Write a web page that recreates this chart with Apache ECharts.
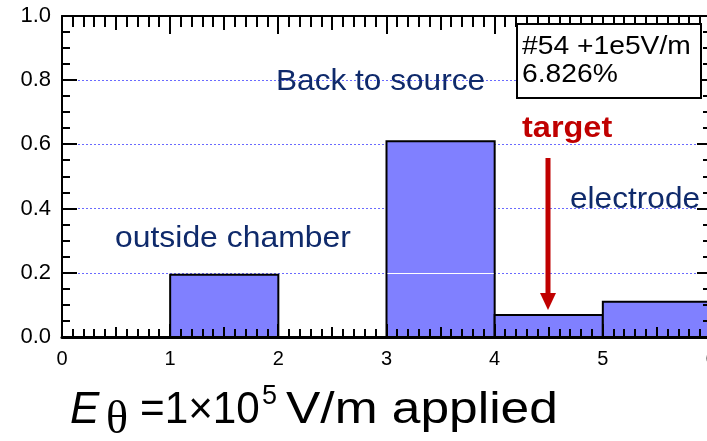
<!DOCTYPE html>
<html>
<head>
<meta charset="utf-8">
<script src="https://cdn.jsdelivr.net/npm/echarts@6/dist/echarts.min.js"></script>
<style>
  html, body { margin: 0; padding: 0; background: #fff; }
  #chart { width: 707px; height: 441px; }
</style>
</head>
<body>
<div id="chart"></div>
<script>
// Histogram of where particles end up (fraction per destination bin)
const binStart = [0, 1, 2, 3, 4, 5];
const binEnd = [1, 2, 3, 4, 5, 6];
const fractions = [0, 0.194, 0, 0.610, 0.06826, 0.110];
const yTickValues = [0, 0.2, 0.4, 0.6, 0.8, 1.0];
const xTickValues = [0, 1, 2, 3, 4, 5, 6];

const navy = '#0f2a6b';
const red = '#c00000';

const chart = echarts.init(document.getElementById('chart'), null, { renderer: 'canvas' });

const histData = binStart.map((s, i) => [s, binEnd[i], fractions[i]]);

// frame ticks: [kind, x, y]; kind 0 = x tick (every 0.1), kind 1 = y tick (every 0.05)
const frameTicks = [];
for (let i = 0; i <= 60; i++) frameTicks.push([0, i / 10, 0]);
for (let j = 0; j <= 20; j++) frameTicks.push([1, 0, j / 20]);

const fontFam = '"Liberation Sans", Arial, sans-serif';

function stretchedText(id, text, x, y, font, color, scaleX) {
  return {
    type: 'text', id: id, x: x, y: y, scaleX: scaleX || 1.1, z: 20,
    style: { text: text, fill: color, font: font, verticalAlign: 'top', align: 'left' }
  };
}

// frame axis: line (and labels) only; ticks come from the frame-tick series
function frameAxis(dim, position, opts) {
  const isX = dim === 'x';
  return {
    type: 'value',
    min: 0,
    max: isX ? 6 : 1,
    interval: isX ? 1 : 0.2,
    position: position,
    axisLine: { show: true, onZero: false, lineStyle: { color: '#000', width: opts.lineWidth || 2 } },
    axisTick: { show: false },
    minorTick: { show: false },
    axisLabel: opts.label || { show: false },
    splitLine: opts.split || { show: false }
  };
}

// a tick as a small filled bar (x, y = top-left corner)
function tickRect(x, y, w, h) {
  return { type: 'rect', shape: { x: x, y: y, width: w, height: h }, style: { fill: '#000' } };
}

chart.setOption({
  animation: false,
  backgroundColor: '#fff',
  grid: { left: 62, top: 16, width: 649, height: 321, containLabel: false, outerBoundsMode: 'none' },
  xAxis: [
    frameAxis('x', 'bottom', {
      lineWidth: 3,
      label: {
        show: true, color: '#000', fontSize: 20, fontFamily: fontFam, margin: 12,
        formatter: v => (xTickValues.indexOf(v) >= 0 ? String(v) : '')
      }
    }),
    frameAxis('x', 'top', {})
  ],
  yAxis: [
    frameAxis('y', 'left', {
      label: {
        show: true, color: '#000', fontSize: 22, fontFamily: fontFam, margin: 11,
        formatter: v => (yTickValues.some(t => Math.abs(t - v) < 1e-9) ? v.toFixed(1) : '')
      },
      split: { show: true, lineStyle: { color: '#6a6aff', width: 1, type: [2, 2] } }
    }),
    frameAxis('y', 'right', {})
  ],
  series: [
    {
      type: 'custom',
      name: 'fraction',
      xAxisIndex: 0,
      yAxisIndex: 0,
      data: histData,
      encode: { x: [0, 1], y: 2 },
      renderItem: function (params, api) {
        const x0 = api.value(0), x1 = api.value(1), v = api.value(2);
        if (!(v > 0)) return null;
        const pTop = api.coord([x0, v]);
        const pBot = api.coord([x1, 0]);
        const bar = {
          type: 'rect',
          shape: { x: pTop[0], y: pTop[1], width: pBot[0] - pTop[0], height: pBot[1] - pTop[1] },
          style: { fill: '#8080ff', stroke: '#000', lineWidth: 2 }
        };
        if (v <= 0.2) return bar;
        // the 0.2 grid line shows through the tall bar as a thin white rule
        const g0 = api.coord([x0, 0.2]);
        const gy = Math.round(g0[1]) + 0.5;
        return { type: 'group', children: [
          bar,
          { type: 'line', shape: { x1: pTop[0] + 1, y1: gy, x2: pBot[0] - 1, y2: gy },
            style: { stroke: '#ffffff', lineWidth: 1 } }
        ] };
      }
    },
    {
      // inward ticks on all four sides of the frame
      type: 'custom',
      name: 'frameTicks',
      xAxisIndex: 0,
      yAxisIndex: 0,
      silent: true,
      clip: false,
      z: 10,
      data: frameTicks,
      encode: { x: 1, y: 2 },
      renderItem: function (params, api) {
        const kind = api.value(0);
        if (kind === 0) {
          const v = api.value(1);
          const b = api.coord([v, 0]);
          const t = api.coord([v, 1]);
          const k = Math.round(v * 10);
          const isInt = k % 10 === 0, isHalf = k % 5 === 0;
          const bl = isInt ? 13 : (isHalf ? 10 : 8);
          const tl = isInt ? 18 : (isHalf ? 14 : 11);
          const x = Math.round(b[0]) - 1;
          return { type: 'group', children: [
            tickRect(x, Math.round(b[1]) - bl, 2, bl),
            tickRect(x, Math.round(t[1]), 2, tl)
          ] };
        }
        const v = api.value(2);
        const l = api.coord([0, v]);
        const r = api.coord([6, v]);
        const k = Math.round(v * 20);
        const isMajor = k % 4 === 0;
        const y = Math.round(l[1]) - 1;
        const ll = isMajor ? 15 : 8, rl = isMajor ? 14 : 8;
        return { type: 'group', children: [
          tickRect(Math.round(l[0]), y, ll, 2),
          tickRect(Math.round(r[0]) - rl, y, rl, 2)
        ] };
      }
    }
  ],
  graphic: [
    // info box
    {
      type: 'rect', id: 'infoBox', z: 19,
      shape: { x: 517, y: 24, width: 184, height: 74 },
      style: { fill: '#fff', stroke: '#000', lineWidth: 2 }
    },
    stretchedText('infoLine1', '#54 +1e5V/m', 522, 35, '25px ' + fontFam, '#000', 1.13),
    stretchedText('infoLine2', '6.826%', 522, 63, '25px ' + fontFam, '#000', 1.13),

    // region annotations
    stretchedText('lblBack', 'Back to source', 276, 67, '29px ' + fontFam, navy, 1.09),
    stretchedText('lblOutside', 'outside chamber', 115, 224, '29px ' + fontFam, navy, 1.1),
    stretchedText('lblElectrode', 'electrode', 570, 185, '29px ' + fontFam, navy, 1.09),
    stretchedText('lblTarget', 'target', 522, 114, 'bold 29px ' + fontFam, red, 1.12),

    // arrow pointing at the target bin
    {
      type: 'line', id: 'arrowShaft', z: 20,
      shape: { x1: 548, y1: 158, x2: 548, y2: 296 },
      style: { stroke: red, lineWidth: 5 }
    },
    {
      type: 'polygon', id: 'arrowHead', z: 20,
      shape: { points: [[540, 293], [556, 293], [548, 310]] },
      style: { fill: red }
    },

    // applied-field caption
    stretchedText('capE', 'E', 70, 389, 'italic 44px ' + fontFam, '#000', 1.0),
    stretchedText('capTheta', 'θ', 106, 398, '46px "Liberation Serif", "Times New Roman", serif', '#000', 1.0),
    stretchedText('capMain', '=1×10', 140, 389, '44px ' + fontFam, '#000', 0.96),
    stretchedText('capExp', '5', 262, 383, '27px ' + fontFam, '#000', 1.0),
    stretchedText('capUnit', 'V/m applied', 286, 389, '44px ' + fontFam, '#000', 1.17)
  ]
});
</script>
</body>
</html>
